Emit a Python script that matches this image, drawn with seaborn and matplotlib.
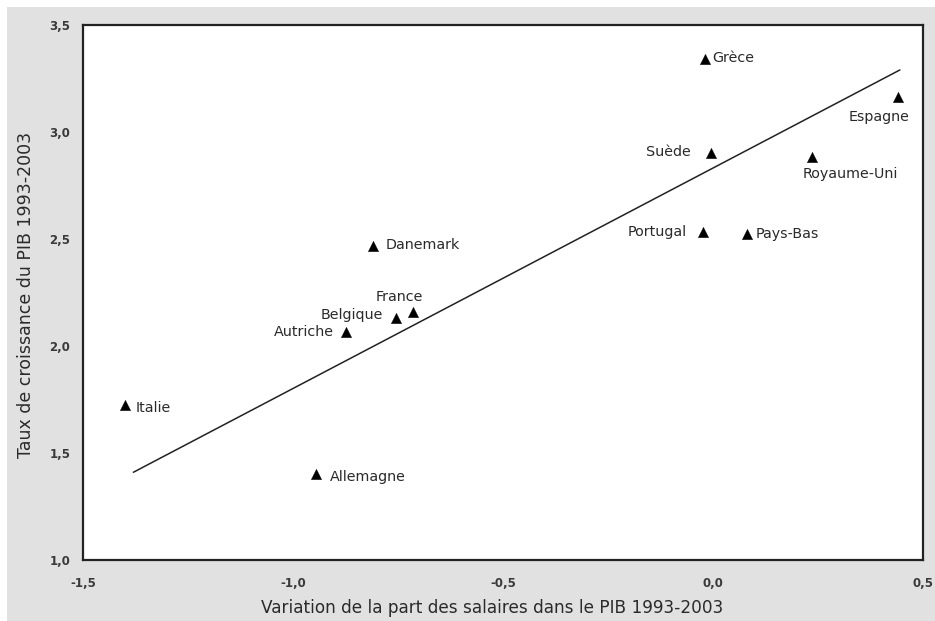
import matplotlib
matplotlib.use("Agg")
import matplotlib.pyplot as plt
from matplotlib.patches import Rectangle
import seaborn as sns
import pandas as pd

# Pays et valeurs 1993-2003
pays = ["Grèce", "Espagne", "Suède", "Royaume-Uni", "Portugal", "Pays-Bas",
        "Danemark", "France", "Belgique", "Autriche", "Italie", "Allemagne"]
part_salaires = [-0.02, 0.44, -0.005, 0.235, -0.025, 0.08,
                 -0.81, -0.715, -0.755, -0.875, -1.40, -0.945]
croissance_pib = [3.34, 3.165, 2.90, 2.885, 2.535, 2.525,
                  2.465, 2.16, 2.13, 2.065, 1.725, 1.40]

# Droite de tendance (extrémités)
tendance_x = [-1.38, 0.445]
tendance_y = [1.41, 3.29]

xticks = [-1.5, -1.0, -0.5, 0.0, 0.5]
yticks = [1.0, 1.5, 2.0, 2.5, 3.0, 3.5]

# Décalage des étiquettes (pixels) et alignement
offsets = {
    "Grèce": (8, 1, "left"), "Espagne": (12, -20, "right"),
    "Suède": (-20, 1, "right"), "Royaume-Uni": (-9, -17, "left"),
    "Portugal": (-16, 0, "right"), "Pays-Bas": (9, 0, "left"),
    "Danemark": (13, 1, "left"), "France": (-13, 15, "center"),
    "Belgique": (-13, 3, "right"), "Autriche": (-12, 0, "right"),
    "Italie": (11, -3, "left"), "Allemagne": (14, -3, "left"),
}

df = pd.DataFrame({"x": part_salaires, "y": croissance_pib, "pays": pays})
df_tend = pd.DataFrame({"x": tendance_x, "y": tendance_y})

sns.set_theme(style="white")
plt.rcParams["font.family"] = ["DejaVu Sans"]

fig = plt.figure(figsize=(9.35, 6.21), dpi=100, facecolor="white")
fig.patches.append(Rectangle((7 / 935, 0), 1, 1 - 7 / 621, transform=fig.transFigure,
                             facecolor="#e1e1e1", edgecolor="none", zorder=-10))
ax = fig.add_axes([83 / 935, 1 - 560 / 621, (923 - 83) / 935, (560 - 25) / 621])
ax.set_facecolor("white")

sns.lineplot(data=df_tend, x="x", y="y", ax=ax, color="#222222", linewidth=1.1)
sns.scatterplot(data=df, x="x", y="y", ax=ax, marker="^", s=55, color="black",
                edgecolor="black", linewidth=0.3, zorder=3)

for _, r in df.iterrows():
    dx, dy, ha = offsets[r["pays"]]
    ax.annotate(r["pays"], (r["x"], r["y"]), xytext=(dx, dy), textcoords="offset pixels",
                ha=ha, va="center", fontsize=10.3, color="#2a2a2a")

ax.set_xlim(-1.5, 0.5)
ax.set_ylim(1.0, 3.5)
ax.set_xticks(xticks)
ax.set_yticks(yticks)
ax.set_xticklabels([f"{v:.1f}".replace(".", ",") for v in xticks])
ax.set_yticklabels([f"{v:.1f}".replace(".", ",") for v in yticks])
ax.tick_params(axis="both", direction="inout", length=6, width=1.2, color="#222222",
               labelsize=8.5, labelcolor="#3a3a3a")
ax.tick_params(axis="y", pad=6)
ax.tick_params(axis="x", pad=9)
for lab in ax.get_xticklabels() + ax.get_yticklabels():
    lab.set_fontweight("bold")

for sp in ax.spines.values():
    sp.set_visible(True)
    sp.set_color("#222222")
    sp.set_linewidth(1.6)

ax.set_xlabel("Variation de la part des salaires dans le PIB 1993-2003",
              fontsize=12.2, color="#2a2a2a")
ax.set_ylabel("Taux de croissance du PIB 1993-2003", fontsize=12.5, color="#2a2a2a")
ax.xaxis.set_label_coords((492 - 83) / 840, -0.073)
ax.yaxis.set_label_coords((35 - 83) / 840, 0.496)

fig.savefig("out.png", dpi=100, facecolor=fig.get_facecolor())
